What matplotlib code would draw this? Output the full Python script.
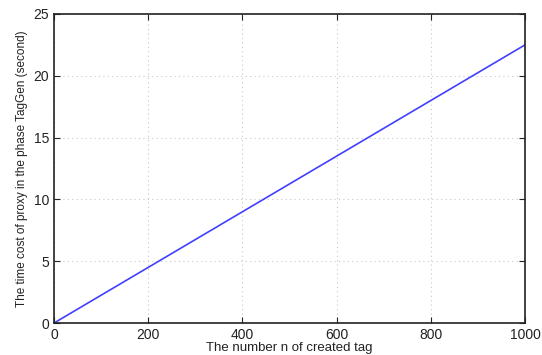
import matplotlib.pyplot as plt

n_tags = [0, 100, 200, 300, 400, 500, 600, 700, 800, 900, 1000]
time_cost = [0, 2.25, 4.5, 6.75, 9.0, 11.25, 13.5, 15.75, 18.0, 20.25, 22.5]

plt.rcParams['font.family'] = ['Liberation Sans', 'DejaVu Sans']

fig = plt.figure(figsize=(5.42, 3.55), dpi=100)
ax = fig.add_axes([0.0996, 0.090, 0.8694, 0.871])
ax.plot(n_tags, time_cost, color='#4040ff', linewidth=1.2)

ax.set_xlim(0, 1000)
ax.set_ylim(0, 25)
ax.set_xticks(range(0, 1001, 200))
ax.set_yticks(range(0, 26, 5))
ax.tick_params(direction='in', top=True, right=True, labelsize=10, length=4, colors='#222222')
ax.grid(True, linestyle=(0, (1, 3)), color='#c8c8c8', linewidth=0.8)
for s in ax.spines.values():
    s.set_linewidth(1.2)
    s.set_color('#222222')

ax.set_xlabel('The number n of created tag', fontsize=9.5, labelpad=0, color='#222222')
ax.set_ylabel('The time cost of proxy in the phase TagGen (second)', fontsize=8.5, labelpad=4, color='#222222')

fig.savefig('out.png', dpi=100)
